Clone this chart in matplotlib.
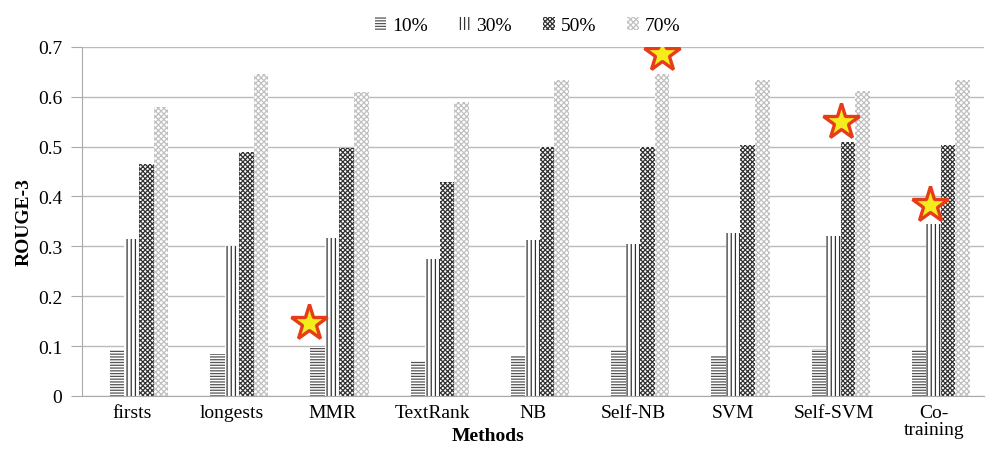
import numpy as np
import matplotlib.pyplot as plt

methods = ["firsts", "longests", "MMR", "TextRank", "NB", "Self-NB", "SVM", "Self-SVM", "Co-\ntraining"]
r10 = [0.091, 0.084, 0.100, 0.070, 0.082, 0.091, 0.082, 0.093, 0.091]
r30 = [0.315, 0.300, 0.316, 0.275, 0.312, 0.305, 0.326, 0.320, 0.345]
r50 = [0.465, 0.489, 0.497, 0.430, 0.500, 0.499, 0.503, 0.510, 0.503]
r70 = [0.579, 0.645, 0.610, 0.590, 0.633, 0.645, 0.633, 0.612, 0.633]
series_labels = ["10%", "30%", "50%", "70%"]

# stars: (method index, offset inside group, value)
star_idx = [2, 5, 7, 8]
star_off = [-0.30, 0.22, 0.0, -0.11]
star_val = [0.147, 0.685, 0.549, 0.382]

plt.rcParams['font.family'] = ['Liberation Serif', 'DejaVu Serif']
plt.rcParams['hatch.linewidth'] = 0.9

fig = plt.figure(figsize=(9.86, 4.52), dpi=100)
ax = fig.add_axes([0.083, 0.122, 0.915, 0.772])

x = np.arange(len(methods))
w = 0.145
hatches = ['------', '||||', 'xxxxxxx', 'xxxxxx']
hcolors = ['#555555', '#333333', '#333333', '#c0c0c0']
for i, vals in enumerate([r10, r30, r50, r70]):
    ax.bar(x + (i - 1.5) * w + 0.07, vals, w, color='white', edgecolor=hcolors[i],
           hatch=hatches[i], linewidth=0, label=series_labels[i], zorder=2)

for k in range(len(star_idx)):
    ax.plot(star_idx[k] + star_off[k] + 0.07, star_val[k], marker='*', markersize=27,
            markerfacecolor='#f5ec1e', markeredgecolor='#e63c1a', markeredgewidth=2.4,
            zorder=5, linestyle='none')

ax.set_ylim(0, 0.7)
ax.set_xlim(-0.5, 8.5)
ax.set_yticks(np.arange(0, 0.71, 0.1))
ax.set_yticklabels(["0", "0.1", "0.2", "0.3", "0.4", "0.5", "0.6", "0.7"])
ax.set_xticks(x)
ax.set_xticklabels(methods, linespacing=1.0)
ax.tick_params(axis='x', length=0, labelsize=14, pad=6)
ax.tick_params(axis='y', length=8, color='#aaaaaa', labelsize=14, pad=6)
ax.grid(axis='y', color='#bbbbbb', linewidth=1, zorder=0)
ax.set_axisbelow(True)
for s in ['top', 'right']:
    ax.spines[s].set_visible(False)
for s in ['left', 'bottom']:
    ax.spines[s].set_color('#aaaaaa')

ax.set_ylabel("ROUGE-3", fontsize=14, fontweight='bold')
ax.set_xlabel("Methods", fontsize=14, fontweight='bold')
ax.xaxis.set_label_coords(0.45, -0.09)

fig.legend(loc='upper center', bbox_to_anchor=(0.535, 1.0), ncol=4, frameon=False,
           fontsize=14, handlelength=0.6, handleheight=0.7, handletextpad=0.3, columnspacing=1.6)

plt.savefig("out.png", dpi=100)
